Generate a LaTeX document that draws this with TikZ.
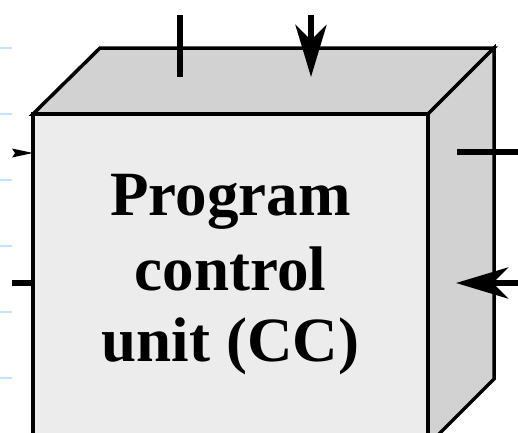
\documentclass[tikz,border=0pt]{standalone}
\usepackage{fontspec}
\setmainfont{Liberation Serif}
\usetikzlibrary{arrows.meta}
\definecolor{frontgray}{RGB}{236,236,236}
\definecolor{sidegray}{RGB}{210,210,210}
\definecolor{guideblue}{RGB}{196,228,252}
\tikzset{
  face/.style={draw=black, line width=3.5pt, line join=miter},
  wire/.style={draw=black, line width=6pt},
  bigtip/.style={-{Stealth[length=52pt,width=31pt,inset=15pt]}},
  guide/.style={draw=guideblue, line width=1.2pt},
  lbl/.style={font=\fontsize{63}{72}\selectfont\bfseries, anchor=base, inner sep=0pt}
}
\begin{document}
\begin{tikzpicture}[x=1pt,y=-1pt]
\useasboundingbox (0,0) rectangle (518,432);
\clip (0,0) rectangle (518,432);
\fill[white] (0,0) rectangle (518,432);
% guide ticks at left edge
\foreach \yy in {48,114,180,246,312,378} \draw[guide] (0,\yy) -- (12,\yy);
% cube corners
\coordinate (ftl) at (33,114);
\coordinate (ftr) at (428,114);
\coordinate (fbr) at (428,445);
\coordinate (fbl) at (33,445);
\coordinate (btl) at (100,48);
\coordinate (btr) at (494,48);
\coordinate (bbr) at (494,379);
% faces
\filldraw[face, fill=sidegray] (ftl) -- (btl) -- (btr) -- (ftr) -- cycle;
\filldraw[face, fill=sidegray] (ftr) -- (btr) -- (bbr) -- (fbr) -- cycle;
\filldraw[face, fill=frontgray] (ftl) -- (ftr) -- (fbr) -- (fbl) -- cycle;
% text
\node[lbl] (l1) at (230.5,215) {Program};
\node[lbl] (l2) at (230.5,290) {control};
\node[lbl] (l3) at (230.5,361) {unit (CC)};
% top connectors
\coordinate (t1a) at (180,15);
\coordinate (t1b) at (180,77);
\coordinate (t2a) at (311,15);
\coordinate (t2b) at (311,77);
\draw[wire] (t1a) -- (t1b);
\draw[wire, bigtip] (t2a) -- (t2b);
% right connectors
\coordinate (r1a) at (457,152);
\coordinate (r1b) at (518,152);
\coordinate (r2a) at (518,283);
\coordinate (r2b) at (456,283);
\draw[wire] (r1a) -- (r1b);
\draw[wire, bigtip] (r2a) -- (r2b);
% left connectors
\coordinate (l1a) at (12,283);
\coordinate (l1b) at (33,283);
\draw[wire] (l1a) -- (l1b);
\coordinate (la) at (12,153);
\coordinate (lb) at (33,153);
\fill[black] (12,148.5) -- (lb) -- (12,157.5) -- (15,153) -- cycle;
\end{tikzpicture}
\end{document}
